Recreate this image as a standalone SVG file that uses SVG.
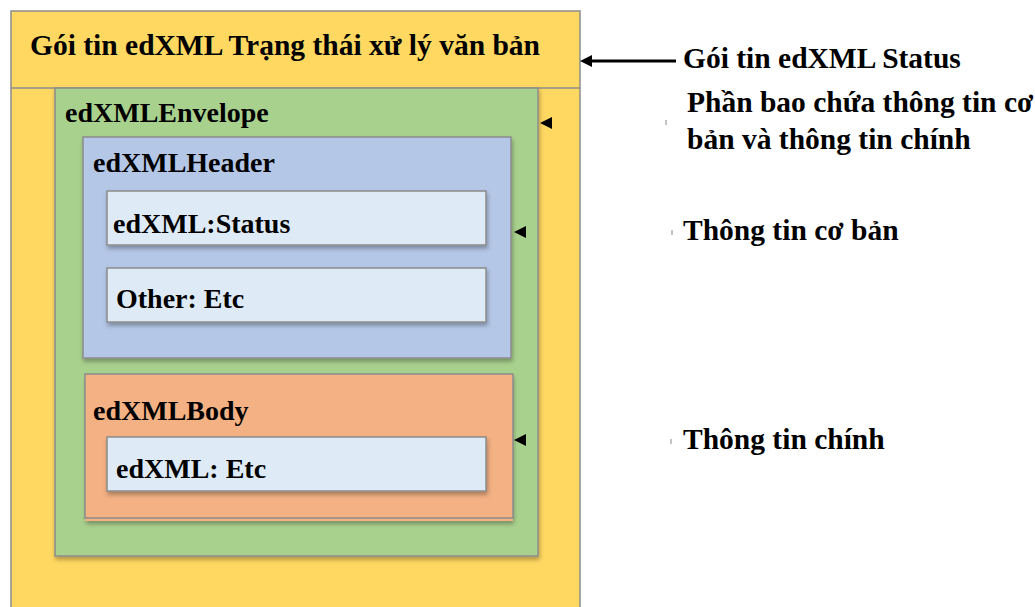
<svg xmlns="http://www.w3.org/2000/svg" width="1035" height="607" viewBox="0 0 1035 607">
  <defs>
    <filter id="shadow" x="-5%" y="-5%" width="115%" height="120%">
      <feDropShadow dx="1" dy="3" stdDeviation="2" flood-color="#000" flood-opacity="0.3"/>
    </filter>
    <marker id="tri" viewBox="0 0 10 10" refX="0" refY="5" markerWidth="12" markerHeight="12" markerUnits="userSpaceOnUse" orient="auto-start-reverse">
      <path d="M0,0 L10,5 L0,10 z" fill="#000"/>
    </marker>
  </defs>
  <style>
    .box { stroke: #8c8c8c; stroke-width: 1.5; }
    text { font-family: 'Liberation Serif', serif; font-weight: bold; fill: #000; }
    .lbl { font-size: 28px; }
    .note { font-size: 29.5px; }
  </style>
  <rect width="1035" height="607" fill="#fff"/>

  <!-- outer package -->
  <g id="package">
    <rect class="box" x="11" y="11" width="569" height="610" fill="#FFD862"/>
    <line x1="11" y1="88" x2="580" y2="88" stroke="#8c8c8c" stroke-width="1.5"/>
    <text class="note" x="30" y="55">Gói tin edXML Trạng thái xử lý văn bản</text>
  </g>

  <!-- envelope -->
  <g id="envelope">
    <rect class="box" x="55" y="88" width="483" height="468" fill="#A9D18E" filter="url(#shadow)"/>
    <text class="lbl" x="65" y="122">edXMLEnvelope</text>
  </g>

  <!-- header -->
  <g id="header">
    <rect class="box" x="83" y="137" width="428" height="221" fill="#B4C7E7" filter="url(#shadow)"/>
    <text class="lbl" x="93" y="172">edXMLHeader</text>
  </g>
  <g id="status">
    <rect class="box" x="107" y="191" width="379" height="54" fill="#DEEBF7" filter="url(#shadow)"/>
    <text class="lbl" x="113" y="233">edXML:Status</text>
  </g>
  <g id="other">
    <rect class="box" x="107" y="268" width="379" height="54" fill="#DEEBF7" filter="url(#shadow)"/>
    <text class="lbl" x="116" y="308">Other: Etc</text>
  </g>

  <!-- body -->
  <g id="body">
    <rect x="85" y="374" width="428" height="147" fill="#F4B183" filter="url(#shadow)"/>
    <rect class="box" x="85" y="374" width="428" height="144" fill="#F4B183"/>
    <text class="lbl" x="93" y="420">edXMLBody</text>
  </g>
  <g id="etc">
    <rect class="box" x="107" y="437" width="379" height="54" fill="#DEEBF7" filter="url(#shadow)"/>
    <text class="lbl" x="116" y="478">edXML: Etc</text>
  </g>

  <!-- connectors -->
  <g id="connectors" fill="none" stroke="#000">
    <line x1="676" y1="61" x2="592" y2="61" stroke-width="3" marker-end="url(#tri)"/>
    <path d="M552,117 L540,123 L552,129 z" fill="#000" stroke="none"/>
    <path d="M526,226 L514,232 L526,238 z" fill="#000" stroke="none"/>
    <path d="M526,434 L514,440 L526,446 z" fill="#000" stroke="none"/>
    <line x1="666" y1="120" x2="666" y2="125" stroke="#888" stroke-width="1"/>
    <line x1="672" y1="230" x2="672" y2="235" stroke="#888" stroke-width="1"/>
    <line x1="671" y1="439" x2="671" y2="444" stroke="#888" stroke-width="1"/>
  </g>

  <!-- annotations -->
  <g id="notes">
    <text class="note" x="683" y="68">Gói tin edXML Status</text>
    <text class="note" x="687" y="112">Phần bao chứa thông tin cơ</text>
    <text class="note" x="687" y="149">bản và thông tin chính</text>
    <text class="note" x="683" y="240">Thông tin cơ bản</text>
    <text class="note" x="683" y="449">Thông tin chính</text>
  </g>
</svg>
